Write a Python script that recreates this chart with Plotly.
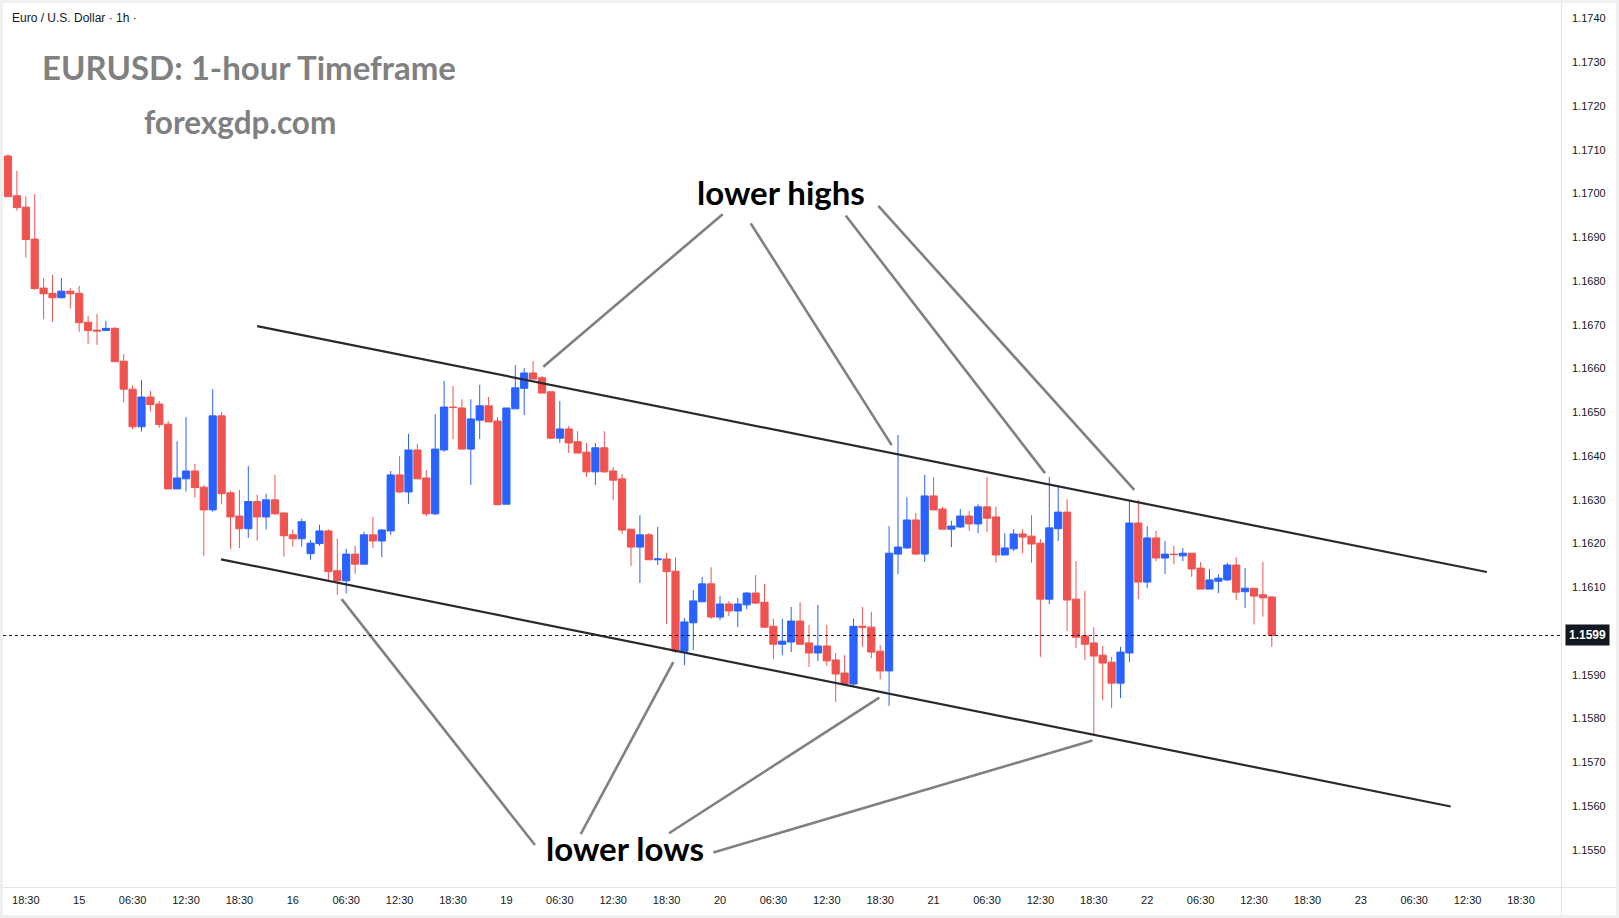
import plotly.graph_objects as go

# ---------------- data (hourly bars, index-based x like TradingView) ----------------
bar_index = list(range(-2, 141))

opens = [
    1.17086, 1.16995,
    1.16969, 1.16896, 1.16784, 1.16772, 1.16762, 1.16777, 1.16772, 1.16706, 1.16688, 1.16687,
    1.16692, 1.16617, 1.16553, 1.16467, 1.16535, 1.16519, 1.16473, 1.16325, 1.16348, 1.16366,
    1.16329, 1.16277, 1.16492, 1.16316, 1.16263, 1.16234, 1.16296, 1.16261, 1.16300, 1.16270,
    1.16220, 1.16211, 1.16177, 1.16200, 1.16229, 1.16138, 1.16115, 1.16176, 1.16153, 1.16220,
    1.16206, 1.16229, 1.16357, 1.16318, 1.16414, 1.16350, 1.16268, 1.16414, 1.16512, 1.16510,
    1.16416, 1.16482, 1.16515, 1.16480, 1.16290, 1.16508, 1.16555, 1.16590, 1.16579, 1.16547,
    1.16441, 1.16462, 1.16433, 1.16409, 1.16364, 1.16419, 1.16366, 1.16348, 1.16233, 1.16192,
    1.16220, 1.16163, 1.16165, 1.16137, 1.15954, 1.16019, 1.16067, 1.16108, 1.16032, 1.16062,
    1.16046, 1.16060, 1.16087, 1.16066, 1.16011, 1.15970, 1.15975, 1.16023, 1.15973, 1.15950,
    1.15966, 1.15934, 1.15904, 1.15879, 1.16011, 1.16009, 1.15954, 1.15909, 1.16176, 1.16190,
    1.16254, 1.16176, 1.16309, 1.16279, 1.16233, 1.16238, 1.16263, 1.16245, 1.16284, 1.16261,
    1.16174, 1.16188, 1.16222, 1.16217, 1.16201, 1.16073, 1.16234, 1.16272, 1.16073, 1.15989,
    1.15973, 1.15945, 1.15929, 1.15881, 1.15950, 1.16247, 1.16112, 1.16213, 1.16167, 1.16176,
    1.16172, 1.16178, 1.16144, 1.16096, 1.16114, 1.16117, 1.16151, 1.16090, 1.16098, 1.16083,
    1.16078,
]
highs = [
    1.17090, 1.17052,
    1.16994, 1.16999, 1.16807, 1.16814, 1.16807, 1.16784, 1.16789, 1.16720, 1.16725, 1.16709,
    1.16695, 1.16633, 1.16562, 1.16574, 1.16549, 1.16526, 1.16480, 1.16434, 1.16489, 1.16382,
    1.16334, 1.16553, 1.16501, 1.16321, 1.16323, 1.16377, 1.16312, 1.16314, 1.16357, 1.16272,
    1.16232, 1.16257, 1.16208, 1.16243, 1.16233, 1.16211, 1.16188, 1.16195, 1.16227, 1.16261,
    1.16233, 1.16366, 1.16400, 1.16451, 1.16428, 1.16368, 1.16496, 1.16572, 1.16560, 1.16530,
    1.16530, 1.16563, 1.16535, 1.16489, 1.16510, 1.16608, 1.16601, 1.16617, 1.16583, 1.16547,
    1.16526, 1.16469, 1.16457, 1.16430, 1.16430, 1.16457, 1.16375, 1.16359, 1.16233, 1.16265,
    1.16224, 1.16238, 1.16179, 1.16169, 1.16030, 1.16094, 1.16124, 1.16146, 1.16080, 1.16069,
    1.16076, 1.16089, 1.16128, 1.16108, 1.16028, 1.16028, 1.16055, 1.16066, 1.16014, 1.16060,
    1.16014, 1.15950, 1.15945, 1.16028, 1.16055, 1.16044, 1.15968, 1.16240, 1.16448, 1.16306,
    1.16270, 1.16357, 1.16352, 1.16284, 1.16252, 1.16279, 1.16274, 1.16290, 1.16352, 1.16284,
    1.16224, 1.16233, 1.16233, 1.16265, 1.16210, 1.16352, 1.16334, 1.16302, 1.16160, 1.16092,
    1.16009, 1.15966, 1.15941, 1.15964, 1.16300, 1.16300, 1.16240, 1.16229, 1.16206, 1.16195,
    1.16190, 1.16178, 1.16158, 1.16142, 1.16130, 1.16156, 1.16169, 1.16144, 1.16098, 1.16158,
    1.16080,
]
lows = [
    1.16993, 1.16961,
    1.16854, 1.16780, 1.16713, 1.16707, 1.16760, 1.16737, 1.16684, 1.16657, 1.16654, 1.16686,
    1.16614, 1.16523, 1.16461, 1.16456, 1.16502, 1.16465, 1.16325, 1.16325, 1.16319, 1.16305,
    1.16172, 1.16273, 1.16291, 1.16188, 1.16190, 1.16213, 1.16207, 1.16232, 1.16266, 1.16170,
    1.16193, 1.16193, 1.16163, 1.16195, 1.16117, 1.16083, 1.16086, 1.16131, 1.16153, 1.16190,
    1.16169, 1.16220, 1.16316, 1.16291, 1.16348, 1.16263, 1.16265, 1.16410, 1.16439, 1.16414,
    1.16334, 1.16439, 1.16478, 1.16287, 1.16290, 1.16508, 1.16494, 1.16576, 1.16544, 1.16439,
    1.16430, 1.16407, 1.16407, 1.16352, 1.16334, 1.16362, 1.16300, 1.16222, 1.16149, 1.16110,
    1.16163, 1.16151, 1.16016, 1.15950, 1.15922, 1.15957, 1.16067, 1.16028, 1.16025, 1.16034,
    1.16009, 1.16050, 1.16062, 1.16007, 1.15936, 1.15945, 1.15952, 1.15970, 1.15918, 1.15932,
    1.15920, 1.15838, 1.15879, 1.15875, 1.15964, 1.15938, 1.15890, 1.15829, 1.16130, 1.16188,
    1.16174, 1.16158, 1.16277, 1.16233, 1.16192, 1.16236, 1.16229, 1.16224, 1.16226, 1.16156,
    1.16174, 1.16183, 1.16178, 1.16156, 1.15941, 1.16062, 1.16206, 1.16000, 1.15961, 1.15934,
    1.15762, 1.15842, 1.15824, 1.15847, 1.15929, 1.16073, 1.16098, 1.16160, 1.16130, 1.16153,
    1.16160, 1.16124, 1.16096, 1.16096, 1.16087, 1.16114, 1.16071, 1.16053, 1.16015, 1.16033,
    1.15964,
]
closes = [
    1.16993, 1.16968,
    1.16895, 1.16783, 1.16771, 1.16762, 1.16777, 1.16771, 1.16705, 1.16687, 1.16686, 1.16692,
    1.16616, 1.16553, 1.16467, 1.16535, 1.16518, 1.16472, 1.16325, 1.16350, 1.16366, 1.16328,
    1.16277, 1.16492, 1.16314, 1.16261, 1.16234, 1.16296, 1.16261, 1.16300, 1.16268, 1.16218,
    1.16211, 1.16250, 1.16201, 1.16229, 1.16136, 1.16115, 1.16176, 1.16153, 1.16220, 1.16206,
    1.16231, 1.16357, 1.16318, 1.16414, 1.16348, 1.16268, 1.16416, 1.16512, 1.16511, 1.16416,
    1.16485, 1.16515, 1.16478, 1.16289, 1.16510, 1.16556, 1.16590, 1.16576, 1.16544, 1.16441,
    1.16462, 1.16430, 1.16407, 1.16364, 1.16419, 1.16364, 1.16345, 1.16231, 1.16192, 1.16220,
    1.16163, 1.16165, 1.16136, 1.15954, 1.16021, 1.16069, 1.16108, 1.16032, 1.16062, 1.16046,
    1.16062, 1.16087, 1.16064, 1.16009, 1.15970, 1.15977, 1.16023, 1.15970, 1.15950, 1.15966,
    1.15932, 1.15902, 1.15879, 1.16011, 1.16009, 1.15952, 1.15909, 1.16178, 1.16192, 1.16254,
    1.16176, 1.16309, 1.16277, 1.16233, 1.16240, 1.16263, 1.16245, 1.16284, 1.16258, 1.16174,
    1.16190, 1.16222, 1.16215, 1.16199, 1.16073, 1.16236, 1.16272, 1.16071, 1.15986, 1.15970,
    1.15943, 1.15927, 1.15881, 1.15952, 1.16247, 1.16112, 1.16213, 1.16167, 1.16176, 1.16175,
    1.16178, 1.16142, 1.16096, 1.16117, 1.16121, 1.16151, 1.16089, 1.16098, 1.16080, 1.16076,
    1.15990,
]

time_tick_index = list(range(0, 169, 6))
time_tick_labels = ["18:30", "15", "06:30", "12:30", "18:30", "16", "06:30", "12:30", "18:30",
                    "19", "06:30", "12:30", "18:30", "20", "06:30", "12:30", "18:30",
                    "21", "06:30", "12:30", "18:30", "22", "06:30", "12:30", "18:30",
                    "23", "06:30", "12:30", "18:30"]
price_ticks = [round(1.1550 + 0.001 * k, 4) for k in range(20)]
last_price = 1.1599

# channel lines (bar index, price)
upper_channel = [(25.99, 1.16697), (164.16, 1.16135)]
lower_channel = [(21.93, 1.16164), (160.10, 1.15599)]
# pointer lines for the labels
high_pointers = [[(78.30, 1.16953), (58.15, 1.16604)],
                 [(81.45, 1.16932), (97.29, 1.16425)],
                 [(92.12, 1.16950), (114.52, 1.16361)],
                 [(95.79, 1.16972), (124.55, 1.16323)]]
low_pointers = [[(35.49, 1.16073), (57.21, 1.15511)],
                [(72.75, 1.15929), (62.35, 1.15536)],
                [(95.90, 1.15848), (72.27, 1.15538)],
                [(119.84, 1.15750), (77.25, 1.15494)]]

# ---------------- layout geometry ----------------
W, H = 1619, 918
ML, MR, MT, MB = 3, 58, 3, 31
PW, PH = W - ML - MR, H - MT - MB


def px(x):
    return (x - ML) / PW


def py(y):
    return (H - MB - y) / PH


X_RANGE = [(ML - 25.8) / 8.9, (W - MR - 25.8) / 8.9]
Y_RANGE = [1.1740 - (H - MB - 18.6) / 43750, 1.1740 + (18.6 - MT) / 43750]

UP, DOWN = "#2962FF", "#EF5350"
TXT = "#131722"

fig = go.Figure()
fig.add_trace(go.Candlestick(
    x=bar_index, open=opens, high=highs, low=lows, close=closes,
    increasing=dict(line=dict(color=UP, width=1), fillcolor=UP),
    decreasing=dict(line=dict(color=DOWN, width=1), fillcolor=DOWN),
    whiskerwidth=0, hoverinfo="skip", showlegend=False,
))

shapes = []
for (x0, y0), (x1, y1) in [upper_channel, lower_channel]:
    shapes.append(dict(type="line", xref="x", yref="y", x0=x0, y0=y0, x1=x1, y1=y1,
                       line=dict(color="#2a2a2e", width=2.2)))
for seg in high_pointers + low_pointers:
    (x0, y0), (x1, y1) = seg
    shapes.append(dict(type="line", xref="x", yref="y", x0=x0, y0=y0, x1=x1, y1=y1,
                       line=dict(color="#808080", width=2.6)))
# last price dotted line
shapes.append(dict(type="line", xref="paper", yref="y", x0=0, x1=1, y0=last_price, y1=last_price,
                   line=dict(color=TXT, width=1, dash="dot")))
# separators and frame
shapes.append(dict(type="line", xref="paper", yref="paper", x0=px(1561.5), x1=px(1561.5),
                   y0=py(3), y1=py(916), line=dict(color="#e0e3eb", width=1)))
shapes.append(dict(type="line", xref="paper", yref="paper", x0=px(3), x1=px(1616),
                   y0=py(887.5), y1=py(887.5), line=dict(color="#e0e3eb", width=1)))
shapes.append(dict(type="rect", xref="paper", yref="paper", x0=px(1.5), x1=px(1617.5),
                   y0=py(1.5), y1=py(916.5), line=dict(color="#efefef", width=3)))

annotations = [
    dict(text="Euro / U.S. Dollar · 1h ·", xref="paper", yref="paper", x=px(10), y=py(17.5),
         xanchor="left", yanchor="middle", showarrow=False,
         font=dict(family="Liberation Sans", size=12, color=TXT)),
    dict(text="<b>EURUSD: 1-hour Timeframe</b>", xref="paper", yref="paper", x=px(40), y=py(67),
         xanchor="left", yanchor="middle", showarrow=False,
         font=dict(family="Lato", size=33, color="#808080")),
    dict(text="<b>forexgdp.com</b>", xref="paper", yref="paper", x=px(142), y=py(122),
         xanchor="left", yanchor="middle", showarrow=False,
         font=dict(family="Lato", size=31.5, color="#808080")),
    dict(text="<b>lower highs</b>", xref="paper", yref="paper", x=px(781), y=py(192),
         xanchor="center", yanchor="middle", showarrow=False,
         font=dict(family="Lato", size=33, color="#000000")),
    dict(text="<b>lower lows</b>", xref="paper", yref="paper", x=px(625), y=py(848),
         xanchor="center", yanchor="middle", showarrow=False,
         font=dict(family="Lato", size=33, color="#000000")),
    dict(text="<b>1.1599</b>", xref="paper", yref="y", x=px(1587), y=last_price,
         xanchor="center", yanchor="middle", showarrow=False, bgcolor=TXT, borderpad=3,
         font=dict(family="Liberation Sans", size=12, color="#ffffff")),
]

fig.update_layout(
    width=W, height=H,
    margin=dict(l=ML, r=MR, t=MT, b=MB, pad=0),
    paper_bgcolor="white", plot_bgcolor="white",
    boxgap=0.1, boxgroupgap=0.1,
    shapes=shapes, annotations=annotations,
    xaxis=dict(range=X_RANGE, showgrid=False, zeroline=False, showline=False,
               tickmode="array", tickvals=time_tick_index, ticktext=time_tick_labels,
               ticks="", ticklabelstandoff=5,
               tickfont=dict(family="Liberation Sans", size=11, color=TXT),
               rangeslider=dict(visible=False), fixedrange=True),
    yaxis=dict(range=Y_RANGE, side="right", showgrid=False, zeroline=False, showline=False,
               tickmode="array", tickvals=price_ticks,
               ticktext=[f"{v:.4f}" for v in price_ticks], ticks="",
               ticklabelstandoff=10,
               tickfont=dict(family="Liberation Sans", size=11, color=TXT), fixedrange=True),
)

fig.write_html("out.html")
